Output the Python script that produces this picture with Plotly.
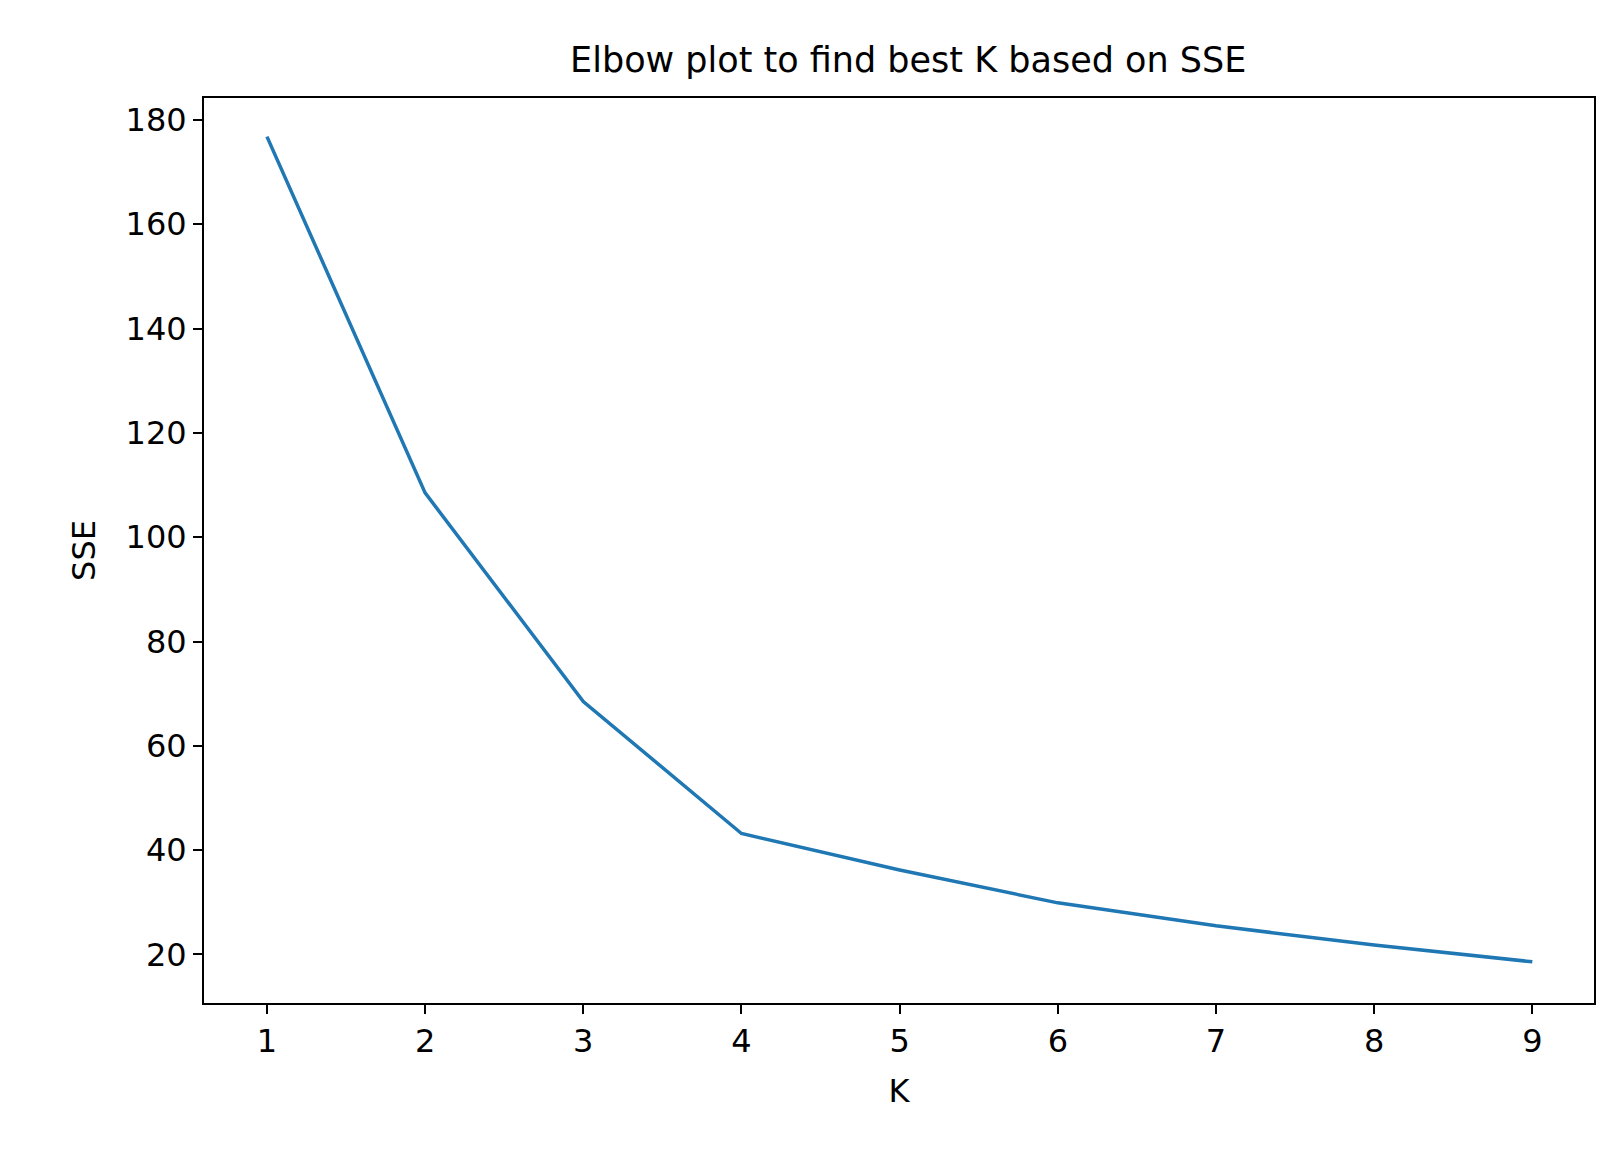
import plotly.graph_objects as go

# K values and their SSE
kValues = [1, 2, 3, 4, 5, 6, 7, 8, 9]
sseValues = [176.8, 108.5, 68.5, 43.2, 36.2, 29.9, 25.5, 21.8, 18.6]

fig = go.Figure()
fig.add_trace(go.Scatter(x=kValues, y=sseValues, mode='lines',
                         line=dict(color='#1f77b4', width=3.5)))

axisStyle = dict(showline=True, linecolor='black', linewidth=2, mirror=True,
                 ticks='outside', ticklen=9, tickwidth=2, tickcolor='black',
                 showgrid=False, zeroline=False,
                 tickfont=dict(size=32, color='black'))

fig.update_layout(
    width=1622, height=1158,
    margin=dict(l=196, r=36, t=90, b=163),
    plot_bgcolor='white', paper_bgcolor='white',
    font=dict(family='DejaVu Sans', color='black'),
    title=dict(text='Elbow plot to find best K based on SSE', x=0.555, xanchor='center',
               y=0.955, yanchor='middle', font=dict(size=35)),
    showlegend=False,
)
fig.update_xaxes(axisStyle, range=[0.602, 9.39], tickvals=kValues,
                 title=dict(text='K', font=dict(size=32), standoff=20))
fig.update_yaxes(axisStyle, range=[10.7, 184.2], tickvals=[20, 40, 60, 80, 100, 120, 140, 160, 180],
                 title=dict(text='SSE', font=dict(size=32), standoff=20))

fig.write_html("out.html")
